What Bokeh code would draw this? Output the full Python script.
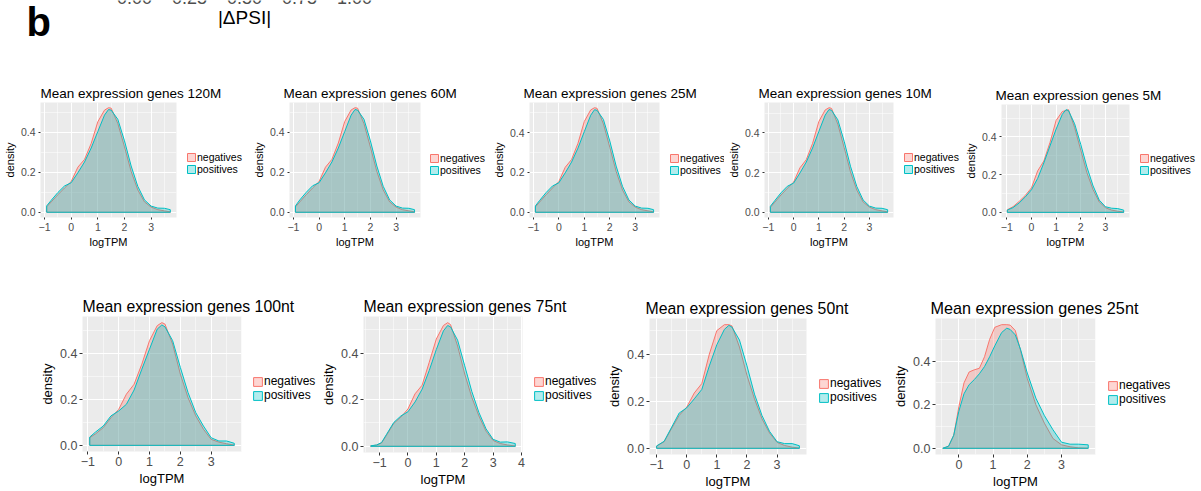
from bokeh.plotting import figure
from bokeh.models import Range1d, FixedTicker, Legend, LegendItem, NumeralTickFormatter, Spacer
from bokeh.layouts import column, row
from bokeh.embed import file_html
from bokeh.resources import INLINE
from bokeh.core.properties import value

FONT = "Liberation Sans"
NEG_COLOR = "#F8766D"
POS_COLOR = "#00BFC4"

# ---------------- data ----------------
PSI_TICKS = [0.0, 0.25, 0.5, 0.75, 1.0]
PSI_LABELS = ["0.00", "0.25", "0.50", "0.75", "1.00"]
SERIES = ["negatives", "positives"]

X_TICKS = [-1, 0, 1, 2, 3, 4]
X_MINOR = [-1.5, -0.5, 0.5, 1.5, 2.5, 3.5]
Y_TICKS = [0.0, 0.2, 0.4]
Y_MINOR = [0.1, 0.3, 0.5]

X_120M = [-0.92, -0.75, -0.5, -0.25, 0.0, 0.25, 0.5, 0.75, 1.0, 1.25, 1.4, 1.5, 1.75, 2.0, 2.25, 2.5, 2.75, 3.0, 3.25, 3.5, 3.72]
NEG_120M = [0.027, 0.052, 0.088, 0.122, 0.154, 0.226, 0.265, 0.345, 0.454, 0.512, 0.524, 0.522, 0.445, 0.328, 0.205, 0.112, 0.052, 0.026, 0.013, 0.007, 0.002]
POS_120M = [0.032, 0.060, 0.099, 0.132, 0.148, 0.198, 0.252, 0.322, 0.405, 0.487, 0.515, 0.512, 0.466, 0.358, 0.232, 0.130, 0.062, 0.031, 0.021, 0.020, 0.013]

X_60M = [-0.92, -0.75, -0.5, -0.25, 0.0, 0.25, 0.5, 0.75, 1.0, 1.25, 1.4, 1.5, 1.75, 2.0, 2.25, 2.5, 2.75, 3.0, 3.25, 3.5, 3.72]
NEG_60M = [0.027, 0.052, 0.088, 0.122, 0.154, 0.226, 0.265, 0.347, 0.455, 0.513, 0.524, 0.522, 0.444, 0.327, 0.205, 0.112, 0.052, 0.026, 0.013, 0.007, 0.002]
POS_60M = [0.032, 0.062, 0.100, 0.133, 0.148, 0.198, 0.252, 0.322, 0.405, 0.487, 0.515, 0.512, 0.466, 0.358, 0.232, 0.130, 0.062, 0.031, 0.021, 0.020, 0.013]

X_25M = [-0.92, -0.75, -0.5, -0.25, 0.0, 0.25, 0.5, 0.75, 1.0, 1.25, 1.4, 1.5, 1.75, 2.0, 2.25, 2.5, 2.75, 3.0, 3.25, 3.5, 3.72]
NEG_25M = [0.027, 0.052, 0.088, 0.122, 0.154, 0.226, 0.265, 0.346, 0.456, 0.514, 0.525, 0.522, 0.444, 0.327, 0.205, 0.112, 0.052, 0.026, 0.013, 0.007, 0.002]
POS_25M = [0.032, 0.060, 0.099, 0.132, 0.148, 0.198, 0.252, 0.322, 0.405, 0.487, 0.515, 0.512, 0.466, 0.358, 0.232, 0.130, 0.062, 0.031, 0.021, 0.020, 0.013]

X_10M = [-0.92, -0.75, -0.5, -0.25, 0.0, 0.25, 0.5, 0.75, 1.0, 1.25, 1.4, 1.5, 1.75, 2.0, 2.25, 2.5, 2.75, 3.0, 3.25, 3.5, 3.72]
NEG_10M = [0.025, 0.050, 0.087, 0.121, 0.152, 0.224, 0.265, 0.347, 0.458, 0.516, 0.527, 0.524, 0.444, 0.326, 0.204, 0.112, 0.052, 0.026, 0.013, 0.007, 0.002]
POS_10M = [0.030, 0.058, 0.098, 0.131, 0.147, 0.198, 0.253, 0.324, 0.408, 0.490, 0.518, 0.514, 0.466, 0.358, 0.232, 0.130, 0.062, 0.031, 0.021, 0.020, 0.013]

X_5M = [-0.98, -0.75, -0.5, -0.25, 0.0, 0.25, 0.5, 0.75, 1.0, 1.25, 1.4, 1.5, 1.75, 2.0, 2.25, 2.5, 2.75, 3.0, 3.25, 3.5, 3.74]
NEG_5M = [0.014, 0.030, 0.058, 0.090, 0.130, 0.220, 0.272, 0.370, 0.488, 0.535, 0.540, 0.545, 0.450, 0.330, 0.210, 0.120, 0.055, 0.025, 0.012, 0.006, 0.002]
POS_5M = [0.012, 0.025, 0.050, 0.082, 0.120, 0.180, 0.262, 0.352, 0.442, 0.520, 0.545, 0.540, 0.470, 0.360, 0.240, 0.140, 0.065, 0.030, 0.022, 0.020, 0.012]

X_100NT = [-0.94, -0.75, -0.5, -0.25, 0.0, 0.25, 0.5, 0.75, 1.0, 1.25, 1.4, 1.5, 1.75, 2.0, 2.25, 2.5, 2.75, 3.0, 3.25, 3.5, 3.75]
NEG_100NT = [0.033, 0.050, 0.077, 0.120, 0.156, 0.222, 0.265, 0.352, 0.454, 0.519, 0.532, 0.526, 0.439, 0.309, 0.207, 0.128, 0.070, 0.026, 0.014, 0.007, 0.001]
POS_100NT = [0.036, 0.058, 0.084, 0.128, 0.149, 0.178, 0.240, 0.330, 0.417, 0.504, 0.522, 0.514, 0.454, 0.338, 0.229, 0.142, 0.084, 0.033, 0.019, 0.019, 0.009]

X_75NT = [-1.31, -1.1, -0.93, -0.75, -0.5, -0.25, 0.0, 0.25, 0.5, 0.75, 1.0, 1.25, 1.4, 1.5, 1.75, 2.0, 2.25, 2.5, 2.75, 3.0, 3.25, 3.5, 3.78]
NEG_75NT = [0.002, 0.005, 0.014, 0.048, 0.098, 0.125, 0.160, 0.225, 0.262, 0.360, 0.460, 0.518, 0.530, 0.522, 0.430, 0.310, 0.210, 0.130, 0.065, 0.025, 0.012, 0.006, 0.001]
POS_75NT = [0.002, 0.006, 0.016, 0.052, 0.102, 0.130, 0.148, 0.190, 0.245, 0.325, 0.415, 0.495, 0.518, 0.512, 0.455, 0.345, 0.235, 0.145, 0.075, 0.030, 0.018, 0.019, 0.012]

X_50NT = [-1.0, -0.75, -0.5, -0.25, 0.0, 0.25, 0.5, 0.75, 1.0, 1.25, 1.4, 1.5, 1.75, 2.0, 2.25, 2.5, 2.75, 3.0, 3.25, 3.5, 3.74]
NEG_50NT = [0.010, 0.028, 0.085, 0.140, 0.175, 0.235, 0.275, 0.400, 0.500, 0.525, 0.525, 0.520, 0.430, 0.310, 0.210, 0.125, 0.065, 0.025, 0.012, 0.005, 0.001]
POS_50NT = [0.010, 0.030, 0.090, 0.150, 0.172, 0.210, 0.250, 0.350, 0.440, 0.505, 0.522, 0.515, 0.460, 0.350, 0.230, 0.139, 0.072, 0.028, 0.020, 0.020, 0.011]

X_25NT = [-0.47, -0.3, -0.15, 0.0, 0.15, 0.3, 0.45, 0.6, 0.75, 0.9, 1.05, 1.25, 1.4, 1.5, 1.65, 1.8, 2.0, 2.25, 2.5, 2.75, 3.0, 3.25, 3.5, 3.78]
NEG_25NT = [0.0, 0.009, 0.060, 0.190, 0.300, 0.350, 0.360, 0.367, 0.420, 0.500, 0.555, 0.567, 0.567, 0.565, 0.540, 0.450, 0.320, 0.200, 0.115, 0.045, 0.016, 0.007, 0.002, 0.0]
POS_25NT = [0.0, 0.010, 0.060, 0.170, 0.250, 0.292, 0.315, 0.342, 0.375, 0.420, 0.470, 0.531, 0.551, 0.545, 0.520, 0.455, 0.345, 0.230, 0.150, 0.085, 0.028, 0.019, 0.019, 0.016]

SMALL = dict(title=13.5, tick=10.5, axis=11, legend=10.5, glyph=10, tick_out=2, standoff=1, line_h=0.95)
BIG = dict(title=15.8, tick=12.5, axis=13, legend=12, glyph=11, tick_out=3, standoff=1, line_h=0.92)


def closed(xs, ys):
    return [xs[0]] + list(xs) + [xs[-1]], [0.0] + list(ys) + [0.0]


def blank(w, h, **kw):
    f = figure(width=w, height=h, toolbar_location=None, output_backend="svg",
               x_axis_location=None, y_axis_location=None, outline_line_color=None,
               background_fill_color="white", border_fill_color="white",
               x_range=kw.pop("x_range", Range1d(0, 1)), y_range=kw.pop("y_range", Range1d(0, 1)),
               **kw)
    f.xgrid.visible = False
    f.ygrid.visible = False
    return f


def cell(title, xs, neg, pos, cell_w, row_h, left, fw, top, fh, leg_dx, leg_dy, st, title_size=None):
    # --- title strip (spans panel + legend, like ggplot's plot title) ---
    tf = blank(cell_w, top, min_border_left=left, min_border_right=0,
               min_border_top=top - 1, min_border_bottom=0)
    tf.title.text = title
    tf.title.align = "left"
    tf.title.text_font = FONT
    tf.title.text_font_style = "normal"
    tf.title.text_font_size = f"{title_size or st['title']}px"
    tf.title.text_color = "black"
    tf.title.standoff = st["standoff"]

    # --- density panel ---
    ph = row_h - top
    bottom = ph - fh
    lo, hi = min(xs), max(xs)
    span = hi - lo
    ymax = max(max(neg), max(pos))
    p = figure(width=left + fw + leg_dx, height=ph,
               x_range=Range1d(lo - 0.05 * span, hi + 0.05 * span),
               y_range=Range1d(-0.05 * ymax, 1.05 * ymax),
               min_border_left=left, min_border_right=leg_dx,
               min_border_top=0, min_border_bottom=bottom,
               toolbar_location=None, output_backend="svg",
               background_fill_color="#EBEBEB", border_fill_color="white",
               outline_line_color=None)
    p.title = None

    nx, ny = closed(xs, neg)
    px, py = closed(xs, pos)
    style = [dict(fill_color=c, fill_alpha=0.3, line_color=c, line_width=1) for c in (NEG_COLOR, POS_COLOR)]
    p.patch(nx, ny, **style[0])
    p.patch(px, py, **style[1])

    p.xaxis.ticker = FixedTicker(ticks=X_TICKS, minor_ticks=X_MINOR)
    p.yaxis.ticker = FixedTicker(ticks=Y_TICKS, minor_ticks=Y_MINOR)
    p.yaxis.formatter = NumeralTickFormatter(format="0.0")
    p.xaxis.axis_label = "logTPM"
    p.yaxis.axis_label = "density"
    for ax in (p.xaxis[0], p.yaxis[0]):
        ax.axis_line_color = None
        ax.major_tick_line_color = "#333333"
        ax.major_tick_out = st["tick_out"]
        ax.major_tick_in = 0
        ax.minor_tick_line_color = None
        ax.major_label_text_font = FONT
        ax.major_label_text_font_size = f"{st['tick']}px"
        ax.major_label_text_color = "#4D4D4D"
        ax.major_label_standoff = 1
        ax.axis_label_text_font = FONT
        ax.axis_label_text_font_size = f"{st['axis']}px"
        ax.axis_label_text_font_style = "normal"
        ax.axis_label_text_color = "black"
        ax.axis_label_standoff = 2
    for g in (p.xgrid[0], p.ygrid[0]):
        g.grid_line_color = "white"
        g.grid_line_width = 1
        g.minor_grid_line_color = "white"
        g.minor_grid_line_width = 0.5

    # --- legend (its own small figure, right of the panel) ---
    # the same density patches are added there, outside its visible range,
    # only so that the legend has real glyphs to draw its keys from
    lw = cell_w - left - fw - leg_dx
    lh = 2 * st["glyph"] + 8
    lf = blank(lw, lh, min_border=0, x_range=Range1d(lo - 20, lo - 19), y_range=Range1d(0, 1))
    lf.title = None
    r_neg = lf.patch(nx, ny, **style[0])
    r_pos = lf.patch(px, py, **style[1])
    items = [LegendItem(label=SERIES[0], renderers=[r_neg]),
             LegendItem(label=SERIES[1], renderers=[r_pos])]
    legend = Legend(items=items, location="top_left")
    legend.label_text_font = FONT
    legend.label_text_font_size = f"{st['legend']}px"
    legend.label_text_line_height = st["line_h"]
    legend.label_text_color = "black"
    legend.glyph_width = st["glyph"]
    legend.glyph_height = st["glyph"]
    legend.label_height = st["glyph"]
    legend.label_standoff = 1
    legend.spacing = 0
    legend.padding = 0
    legend.margin = 0
    legend.border_line_color = None
    legend.background_fill_alpha = 0
    lf.add_layout(legend, "center")
    sp = fh - leg_dy - 2 * st["glyph"]
    return column(tf, row(p, column(Spacer(width=lw, height=sp), lf)))


# ---------------- header (cropped end of panel a) ----------------
HDR_H = 70
hdr = blank(1201, HDR_H, min_border=0,
            x_range=Range1d(-134 / 220, 1067 / 220), y_range=Range1d(HDR_H, 0))
hdr.title = None
hdr.text(x=PSI_TICKS, y=[-3] * len(PSI_TICKS), text=PSI_LABELS, text_align="center",
         text_baseline="alphabetic", text_font=value(FONT), text_font_size="18px", text_color="#4D4D4D")
hdr.text(x=[0.5], y=[17], text=["|ΔPSI|"], text_align="center", text_baseline="alphabetic",
         text_font=value(FONT), text_font_size="19px", text_color="black")
hdr.text(x=[-108 / 220], y=[21], text=["b"], text_align="left", text_baseline="alphabetic",
         text_font=value(FONT), text_font_size="40px", text_font_style="bold", text_color="black")

row1 = [
    cell("Mean expression genes 120M", X_120M, NEG_120M, POS_120M, 249, 180, 40, 136, 32, 115, 10, 46, SMALL),
    cell("Mean expression genes 60M", X_60M, NEG_60M, POS_60M, 240, 180, 34, 137, 32, 116, 9, 46, SMALL),
    cell("Mean expression genes 25M", X_25M, NEG_25M, POS_25M, 235, 180, 34, 136, 32, 116, 10, 46, SMALL),
    cell("Mean expression genes 10M", X_10M, NEG_10M, POS_10M, 237, 180, 34, 135, 32, 115, 10, 46, SMALL),
    cell("Mean expression genes 5M", X_5M, NEG_5M, POS_5M, 240, 180, 34, 134, 34, 114, 10, 46, SMALL),
]

row2 = [
    cell("Mean expression genes 100nt", X_100NT, NEG_100NT, POS_100NT, 318, 241, 82, 159, 66, 135, 11, 55, BIG),
    cell("Mean expression genes 75nt", X_75NT, NEG_75NT, POS_75NT, 286, 241, 45, 159, 66, 136, 11, 56, BIG),
    cell("Mean expression genes 50nt", X_50NT, NEG_50NT, POS_50NT, 286, 241, 41, 161, 68, 136, 12, 56, BIG),
    cell("Mean expression genes 25nt", X_25NT, NEG_25NT, POS_25NT, 311, 241, 40, 165, 68, 139, 12, 57, BIG, title_size=16.2),
]

layout = column(hdr, row(*row1), row(*row2))
open("out.html", "w").write(file_html(layout, INLINE))
